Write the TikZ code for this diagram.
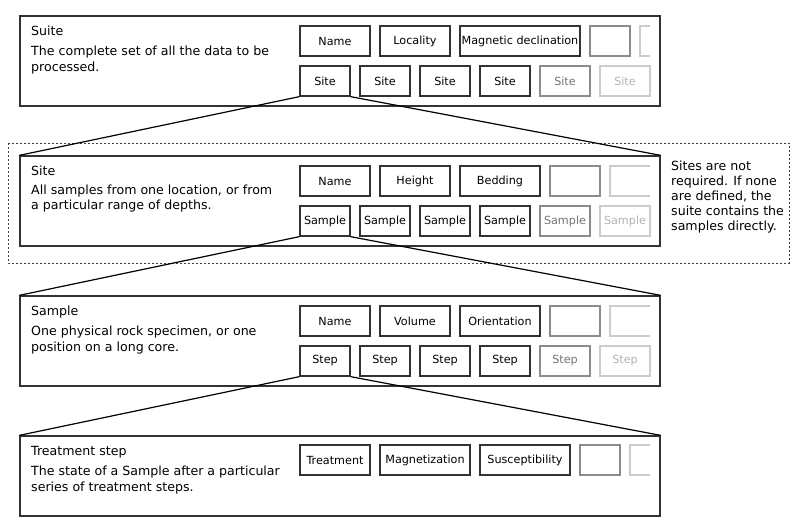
\documentclass[tikz,border=0pt]{standalone}
\usepackage{fontspec}
\setmainfont{DejaVu Sans}
\usetikzlibrary{positioning}

\tikzset{
  level/.style={draw=black!80, line width=1.3pt, minimum width=640pt, minimum height=90pt, inner sep=0pt},
  field/.style={draw=black!80, line width=1.3pt, minimum height=30pt, minimum width=50pt, inner sep=1pt,
                font=\fontsize{11.2}{13}\selectfont},
  faded/.style={draw=black!45, text=black!55},
  fainter/.style={draw=black!20, text=black!30},
  title/.style={anchor=base west, inner sep=0pt, font=\fontsize{12.6}{15}\selectfont},
  descr/.style={anchor=base west, inner sep=0pt, align=left, font=\fontsize{12.6}{15.5}\selectfont},
  zoomline/.style={draw=black, line width=1.2pt},
}

\begin{document}
\begin{tikzpicture}[x=1pt, y=-1pt, node distance=8.7pt]
\useasboundingbox (0,0) rectangle (800,525);

% optional level
\draw[black!75, line width=0.8pt, dash pattern=on 2pt off 2pt] (8,143) rectangle (789,263);
\node[descr, font=\fontsize{12.6}{15}\selectfont] (note) at (671,230) {Sites are not\\required. If none\\are defined, the\\suite contains the\\samples directly.};

% suite
\node[level] (suite) at (340,61) {};
\node[title] (suitet) at (31,35.5) {Suite};
\node[descr] (suited) at (31,71) {The complete set of all the data to be\\processed.};
\node[field, minimum width=70pt] (sua) at (335,41) {Name};
\node[field, minimum width=70pt, right=of sua] (sub) {Locality};
\node[field, minimum width=120pt, right=of sub] (suc) {Magnetic declination};
\node[field, faded, minimum width=40pt, right=of suc] (sud) {};
\begin{scope}
\clip (0,0) rectangle (650,525);
\node[field, fainter, minimum width=40pt, right=of sud] (sue) {};
\end{scope}
\node[field] (su1) at (325,81) {Site};
\node[field, right=of su1] (su2) {Site};
\node[field, right=of su2] (su3) {Site};
\node[field, right=of su3] (su4) {Site};
\node[field, faded, right=of su4] (su5) {Site};
\node[field, fainter, right=of su5] (su6) {Site};

% site
\node[level] (site) at (340,201) {};
\node[title] (sitet) at (31,175.5) {Site};
\node[descr] (sited) at (31,209.5) {All samples from one location, or from\\a particular range of depths.};
\node[field, minimum width=70pt] (sia) at (335,181) {Name};
\node[field, minimum width=70pt, right=of sia] (sib) {Height};
\node[field, minimum width=80pt, right=of sib] (sic) {Bedding};
\node[field, faded, right=of sic] (sid) {};
\begin{scope}
\clip (0,0) rectangle (650,525);
\node[field, fainter, right=of sid] (sie) {};
\end{scope}
\node[field] (si1) at (325,221) {Sample};
\node[field, right=of si1] (si2) {Sample};
\node[field, right=of si2] (si3) {Sample};
\node[field, right=of si3] (si4) {Sample};
\node[field, faded, right=of si4] (si5) {Sample};
\node[field, fainter, right=of si5] (si6) {Sample};

% sample
\node[level] (sample) at (340,341) {};
\node[title] (samplet) at (31,315.5) {Sample};
\node[descr] (sampled) at (31,351) {One physical rock specimen, or one\\position on a long core.};
\node[field, minimum width=70pt] (saa) at (335,321) {Name};
\node[field, minimum width=70pt, right=of saa] (sab) {Volume};
\node[field, minimum width=80pt, right=of sab] (sac) {Orientation};
\node[field, faded, right=of sac] (sad) {};
\begin{scope}
\clip (0,0) rectangle (650,525);
\node[field, fainter, right=of sad] (sae) {};
\end{scope}
\node[field] (sa1) at (325,361) {Step};
\node[field, right=of sa1] (sa2) {Step};
\node[field, right=of sa2] (sa3) {Step};
\node[field, right=of sa3] (sa4) {Step};
\node[field, faded, right=of sa4] (sa5) {Step};
\node[field, fainter, right=of sa5] (sa6) {Step};

% treatment step
\node[level, minimum height=80pt] (step) at (340,476) {};
\node[title] (stept) at (31,455.5) {Treatment step};
\node[descr] (stepd) at (31,491) {The state of a Sample after a particular\\series of treatment steps.};
\node[field, minimum width=70pt] (sta) at (335,460) {Treatment};
\node[field, minimum width=90pt, right=of sta] (stb) {Magnetization};
\node[field, minimum width=90pt, right=of stb] (stc) {Susceptibility};
\node[field, faded, minimum width=40pt, right=of stc] (std) {};
\begin{scope}
\clip (0,0) rectangle (650,525);
\node[field, fainter, minimum width=40pt, right=of std] (ste) {};
\end{scope}

% zoom lines
\draw[zoomline] (su1.south west) -- (site.north west);
\draw[zoomline] (su1.south east) -- (site.north east);
\draw[zoomline] (si1.south west) -- (sample.north west);
\draw[zoomline] (si1.south east) -- (sample.north east);
\draw[zoomline] (sa1.south west) -- (step.north west);
\draw[zoomline] (sa1.south east) -- (step.north east);
\end{tikzpicture}
\end{document}
